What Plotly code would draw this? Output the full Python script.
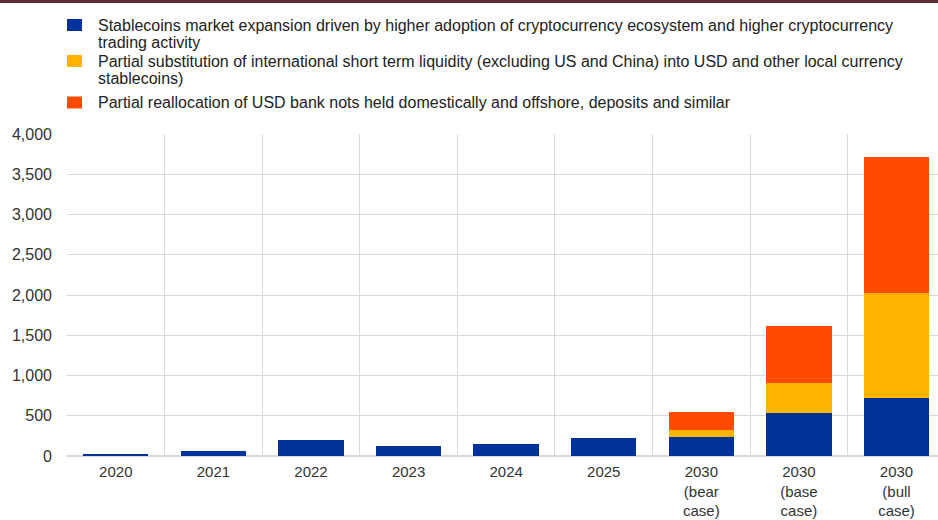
import plotly.graph_objects as go

# Categories along the horizontal axis
categories = ["2020", "2021", "2022", "2023", "2024", "2025",
              "2030<br>(bear<br>case)", "2030<br>(base<br>case)", "2030<br>(bull<br>case)"]

# Stacked components (USD billions)
market_expansion = [25, 65, 195, 130, 150, 225, 240, 530, 715]
liquidity_substitution = [0, 0, 0, 0, 0, 0, 80, 375, 1310]
usd_reallocation = [0, 0, 0, 0, 0, 0, 225, 705, 1690]

# Series labels, split into the lines shown in the key
series_lines = [
    ["Stablecoins market expansion driven by higher adoption of cryptocurrency ecosystem and higher cryptocurrency",
     "trading activity"],
    ["Partial substitution of international short term liquidity (excluding US and China) into USD and other local currency",
     "stablecoins)"],
    ["Partial reallocation of USD bank nots held domestically and offshore, deposits and similar"],
]
series_colors = ["#003299", "#FFB400", "#FF4B00"]

y_ticks = [0, 500, 1000, 1500, 2000, 2500, 3000, 3500, 4000]

# Page geometry (pixels)
W, H = 938, 520
M_L, M_R, M_T, M_B = 67, 0, 134, 64
PLOT_W, PLOT_H = W - M_L - M_R, H - M_T - M_B


def px_x(px):
    return (px - M_L) / PLOT_W


def px_y(py):
    return (H - M_B - py) / PLOT_H


fig = go.Figure()
for lines, values, color in zip(series_lines,
                                [market_expansion, liquidity_substitution, usd_reallocation],
                                series_colors):
    fig.add_trace(go.Bar(
        x=categories, y=values, name=" ".join(lines),
        marker=dict(color=color, line=dict(width=0)),
        showlegend=False,
    ))

font_family = "Arial, Liberation Sans, sans-serif"

# Hand-built key with tight line spacing
key_first_line = [25, 61, 102.5]
key_line_step = 17.5
annotations, shapes = [], []
for lines, color, y0 in zip(series_lines, series_colors, key_first_line):
    shapes.append(dict(
        type="rect", xref="paper", yref="paper",
        x0=px_x(67), x1=px_x(82), y0=px_y(y0 - 6), y1=px_y(y0 + 6),
        fillcolor=color, line=dict(width=0),
    ))
    for i, line in enumerate(lines):
        annotations.append(dict(
            text=line, xref="paper", yref="paper",
            x=px_x(96), y=px_y(y0 + i * key_line_step),
            xanchor="left", yanchor="middle", showarrow=False,
            font=dict(family=font_family, size=16, color="#222222"),
        ))

# dark rule across the top of the figure
shapes.append(dict(
    type="line", xref="paper", yref="paper",
    x0=px_x(0), x1=1.0, y0=px_y(1.5), y1=px_y(1.5),
    line=dict(color="#5b2d32", width=3),
))

fig.update_layout(
    width=W, height=H,
    barmode="stack",
    bargap=0.33,
    plot_bgcolor="white",
    paper_bgcolor="white",
    margin=dict(l=M_L, r=M_R, t=M_T, b=M_B, autoexpand=False),
    font=dict(family=font_family, size=16, color="#333333"),
    showlegend=False,
    xaxis=dict(
        type="category",
        range=[-0.5, 8.425],
        tickson="boundaries",
        showgrid=True,
        gridcolor="#d9d9d9",
        gridwidth=1,
        ticks="",
        ticklabelstandoff=5,
        tickfont=dict(size=15, color="#333333"),
        showline=False,
        zeroline=False,
        fixedrange=True,
    ),
    yaxis=dict(
        range=[0, 4000],
        tickvals=y_ticks,
        tickformat=",",
        showgrid=True,
        gridcolor="#d9d9d9",
        gridwidth=1,
        zeroline=True,
        zerolinecolor="#d9d9d9",
        zerolinewidth=2,
        ticks="",
        ticklabelstandoff=14,
        tickfont=dict(size=16, color="#333333"),
        showline=False,
        fixedrange=True,
    ),
    annotations=annotations,
    shapes=shapes,
)

fig.write_html("out.html")
